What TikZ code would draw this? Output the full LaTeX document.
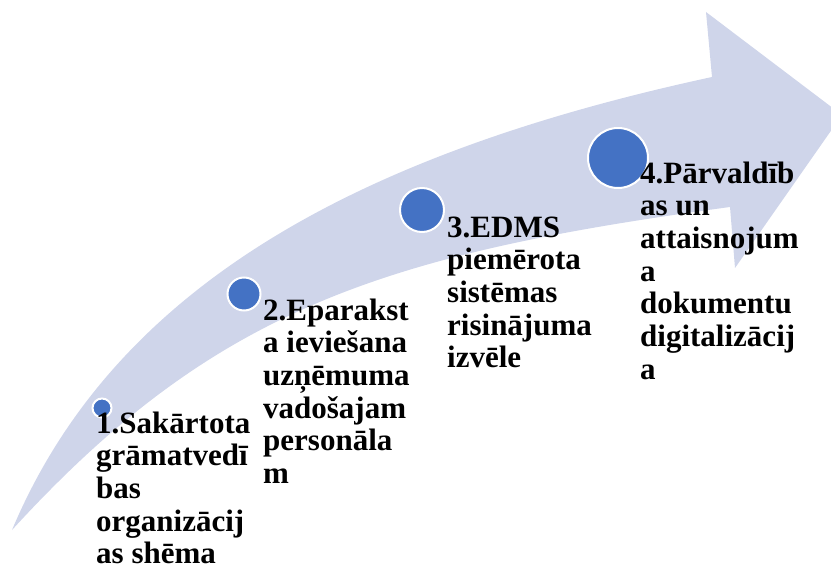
\documentclass[tikz,border=0pt]{standalone}
\usepackage{fontspec}
\setmainfont{Liberation Serif}
\usepackage{tikz}
\definecolor{arrowfill}{HTML}{CFD5EA}
\definecolor{dotblue}{HTML}{4472C4}
\tikzstyle{dot}=[circle, fill=dotblue, draw=white, line width=2pt, inner sep=0pt]
\tikzstyle{steptext}=[anchor=base west, align=left, inner sep=0pt, text=black, font=\bfseries\fontsize{31}{32.7}\selectfont]

\begin{document}
\begin{tikzpicture}[x=1pt, y=-1pt]
    \useasboundingbox (0,0) rectangle (831,567);
    \clip (0,0) rectangle (831,567);
% Arrow
    \fill[arrowfill] (12,530) .. controls (115,285) and (360,153) .. (712,77)
        -- (706,12) -- (842,115) -- (735,268) -- (730,207)
        .. controls (383,254) and (214,309) .. (12,530) -- cycle;
% Dots
    \node[dot, minimum size=19pt] (c1) at (102,408) {};
    \node[dot, minimum size=33pt] (c2) at (244,294) {};
    \node[dot, minimum size=44pt] (c3) at (422,210) {};
    \node[dot, minimum size=60pt] (c4) at (618,158) {};
% Steps (anchored at the baseline of the last line)
    \node[steptext] (t1) at (96,563.8) {1.Sakārtota\\grāmatvedī\\bas\\organizācij\\as shēma};
    \node[steptext] (t2) at (263,483.5) {2.Eparakst\\a ieviešana\\uzņēmuma\\vadošajam\\personāla\\m};
    \node[steptext] (t3) at (447,367.8) {3.EDMS\\piemērota\\sistēmas\\risinājuma\\izvēle};
    \node[steptext] (t4) at (640,379.2) {4.Pārvaldīb\\as un\\attaisnojum\\a\\dokumentu\\digitalizācij\\a};
\end{tikzpicture}
\end{document}
